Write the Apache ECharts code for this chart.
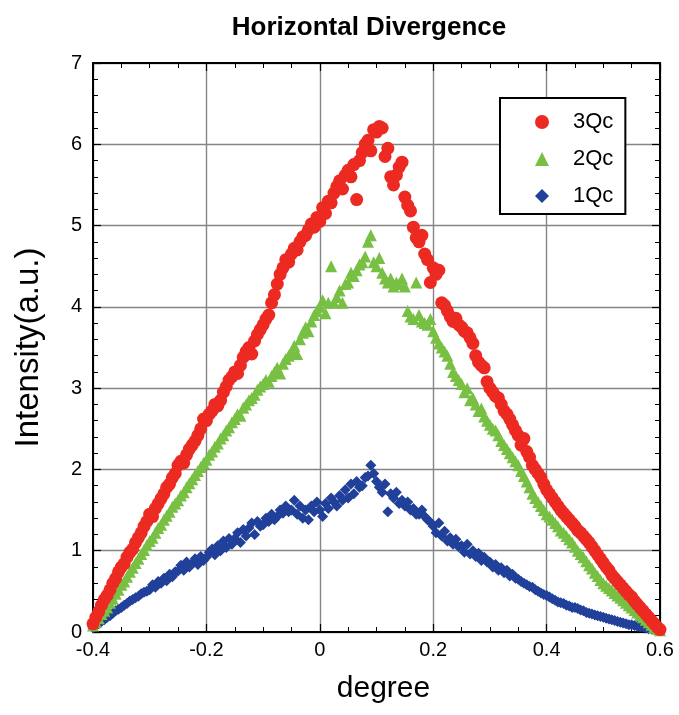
<!DOCTYPE html>
<html>
<head>
<meta charset="utf-8">
<script src="https://cdn.jsdelivr.net/npm/echarts@6/dist/echarts.min.js"></script>
<style>
  html, body { margin: 0; padding: 0; background: #fff; }
  #chart { width: 679px; height: 715px; }
</style>
</head>
<body>
<div id="chart"></div>
<script>
// x positions (degree), shared by all three series
const degree = [
  -0.400, -0.395, -0.390, -0.385, -0.380, -0.375, -0.370, -0.365, -0.360, -0.355,
  -0.350, -0.345, -0.340, -0.335, -0.330, -0.325, -0.320, -0.315, -0.310, -0.305,
  -0.300, -0.295, -0.290, -0.285, -0.280, -0.275, -0.270, -0.265, -0.260, -0.255,
  -0.250, -0.245, -0.240, -0.235, -0.230, -0.225, -0.220, -0.215, -0.210, -0.205,
  -0.200, -0.195, -0.190, -0.185, -0.180, -0.175, -0.170, -0.165, -0.160, -0.155,
  -0.150, -0.145, -0.140, -0.135, -0.130, -0.125, -0.120, -0.115, -0.110, -0.105,
  -0.100, -0.095, -0.090, -0.085, -0.080, -0.075, -0.070, -0.065, -0.060, -0.055,
  -0.050, -0.045, -0.040, -0.035, -0.030, -0.025, -0.020, -0.015, -0.010, -0.005,
  0.000, 0.005, 0.010, 0.015, 0.020, 0.025, 0.030, 0.035, 0.040, 0.045,
  0.050, 0.055, 0.060, 0.065, 0.070, 0.075, 0.080, 0.085, 0.090, 0.095,
  0.100, 0.105, 0.110, 0.115, 0.120, 0.125, 0.130, 0.135, 0.140, 0.145,
  0.150, 0.155, 0.160, 0.165, 0.170, 0.175, 0.180, 0.185, 0.190, 0.195,
  0.200, 0.205, 0.210, 0.215, 0.220, 0.225, 0.230, 0.235, 0.240, 0.245,
  0.250, 0.255, 0.260, 0.265, 0.270, 0.275, 0.280, 0.285, 0.290, 0.295,
  0.300, 0.305, 0.310, 0.315, 0.320, 0.325, 0.330, 0.335, 0.340, 0.345,
  0.350, 0.355, 0.360, 0.365, 0.370, 0.375, 0.380, 0.385, 0.390, 0.395,
  0.400, 0.405, 0.410, 0.415, 0.420, 0.425, 0.430, 0.435, 0.440, 0.445,
  0.450, 0.455, 0.460, 0.465, 0.470, 0.475, 0.480, 0.485, 0.490, 0.495,
  0.500, 0.505, 0.510, 0.515, 0.520, 0.525, 0.530, 0.535, 0.540, 0.545,
  0.550, 0.555, 0.560, 0.565, 0.570, 0.575, 0.580, 0.585, 0.590, 0.595,
  0.600
]

const qc3 = [
  0.10, 0.18, 0.25, 0.33, 0.40, 0.45, 0.52, 0.60, 0.66, 0.74,
  0.80, 0.84, 0.92, 0.98, 1.02, 1.10, 1.16, 1.22, 1.30, 1.36,
  1.45, 1.42, 1.52, 1.58, 1.64, 1.70, 1.78, 1.82, 1.90, 1.95,
  2.05, 2.10, 2.08, 2.18, 2.25, 2.30, 2.35, 2.42, 2.50, 2.62,
  2.60, 2.68, 2.72, 2.80, 2.78, 2.85, 2.95, 3.02, 3.10, 3.14,
  3.20, 3.18, 3.28, 3.38, 3.45, 3.50, 3.42, 3.58, 3.66, 3.72,
  3.78, 3.85, 3.90, 4.05, 4.15, 4.28, 4.40, 4.48, 4.58, 4.55,
  4.65, 4.72, 4.70, 4.80, 4.86, 4.88, 4.95, 5.02, 4.98, 5.10,
  5.05, 5.22, 5.15, 5.30, 5.28, 5.40, 5.48, 5.55, 5.45, 5.62,
  5.68, 5.60, 5.75, 5.32, 5.80, 5.90, 6.00, 6.05, 5.92, 6.18,
  6.15, 6.22, 6.20, 5.85, 5.95, 5.60, 5.50, 5.62, 5.72, 5.78,
  5.35, 5.25, 5.18, 4.98, 4.85, 4.80, 4.88, 4.65, 4.58, 4.30,
  4.48, 4.40, 4.45, 4.05, 4.02, 3.95, 3.88, 3.82, 3.86, 3.78,
  3.75, 3.70, 3.68, 3.62, 3.55, 3.40, 3.32, 3.28, 3.25, 3.08,
  3.00, 2.95, 2.90, 2.88, 2.80, 2.72, 2.68, 2.62, 2.55, 2.48,
  2.42, 2.30, 2.38, 2.22, 2.15, 2.05, 2.00, 1.95, 1.90, 1.82,
  1.75, 1.70, 1.65, 1.60, 1.55, 1.50, 1.46, 1.42, 1.38, 1.34,
  1.30, 1.25, 1.22, 1.18, 1.14, 1.10, 1.05, 1.00, 0.95, 0.90,
  0.85, 0.80, 0.76, 0.70, 0.66, 0.62, 0.58, 0.54, 0.50, 0.46,
  0.43, 0.38, 0.34, 0.30, 0.26, 0.22, 0.18, 0.14, 0.10, 0.06,
  0.03
]

const qc2 = [
  0.08, 0.12, 0.17, 0.22, 0.26, 0.30, 0.36, 0.41, 0.47, 0.52,
  0.58, 0.62, 0.68, 0.74, 0.79, 0.85, 0.90, 0.96, 1.01, 1.07,
  1.12, 1.16, 1.22, 1.28, 1.32, 1.38, 1.43, 1.48, 1.54, 1.58,
  1.62, 1.68, 1.72, 1.78, 1.83, 1.88, 1.93, 1.98, 2.03, 2.08,
  2.12, 2.18, 2.22, 2.28, 2.32, 2.38, 2.42, 2.48, 2.52, 2.58,
  2.62, 2.68, 2.66, 2.76, 2.80, 2.85, 2.88, 2.92, 2.98, 3.02,
  3.05, 3.10, 3.08, 3.15, 3.20, 3.25, 3.18, 3.30, 3.36, 3.40,
  3.45, 3.52, 3.42, 3.60, 3.68, 3.75, 3.70, 3.82, 3.90, 3.95,
  4.00, 4.08, 3.92, 4.05, 4.50, 4.05, 4.12, 4.20, 4.05, 4.28,
  4.30, 4.42, 4.38, 4.45, 4.52, 4.55, 4.62, 4.80, 4.88, 4.55,
  4.50, 4.60, 4.42, 4.35, 4.30, 4.35, 4.25, 4.30, 4.28, 4.35,
  4.25, 3.95, 3.88, 3.85, 4.30, 3.90, 3.82, 3.80, 3.78, 3.85,
  3.70, 3.62, 3.55, 3.50, 3.45, 3.40, 3.30, 3.20, 3.15, 3.10,
  3.05, 2.95, 3.00, 2.85, 2.88, 2.80, 2.72, 2.75, 2.65, 2.60,
  2.55, 2.50, 2.48, 2.42, 2.35, 2.30, 2.25, 2.20, 2.15, 2.10,
  2.05, 1.98, 1.92, 1.85, 1.78, 1.70, 1.65, 1.60, 1.55, 1.50,
  1.45, 1.42, 1.38, 1.34, 1.30, 1.25, 1.22, 1.18, 1.14, 1.10,
  1.05, 1.00, 0.96, 0.92, 0.87, 0.82, 0.78, 0.73, 0.69, 0.64,
  0.60, 0.57, 0.54, 0.51, 0.48, 0.45, 0.42, 0.39, 0.36, 0.33,
  0.30, 0.27, 0.24, 0.21, 0.18, 0.15, 0.12, 0.09, 0.06, 0.04,
  0.02
]

const qc1 = [
  0.05, 0.08, 0.10, 0.13, 0.15, 0.18, 0.20, 0.23, 0.26, 0.28,
  0.30, 0.33, 0.35, 0.38, 0.40, 0.42, 0.44, 0.47, 0.49, 0.50,
  0.52, 0.58, 0.55, 0.62, 0.60, 0.66, 0.63, 0.71, 0.68, 0.74,
  0.75, 0.82, 0.76, 0.86, 0.80, 0.84, 0.90, 0.83, 0.93, 0.88,
  0.92, 0.98, 1.02, 0.95, 1.06, 1.00, 1.12, 1.04, 1.15, 1.08,
  1.15, 1.22, 1.10, 1.26, 1.18, 1.28, 1.34, 1.20, 1.36, 1.30,
  1.32, 1.40, 1.36, 1.45, 1.38, 1.42, 1.50, 1.46, 1.55, 1.48,
  1.50, 1.62, 1.45, 1.55, 1.40, 1.50, 1.38, 1.55, 1.48, 1.60,
  1.50, 1.42, 1.58, 1.52, 1.65, 1.60, 1.55, 1.68, 1.62, 1.75,
  1.65, 1.82, 1.70, 1.85, 1.78, 1.80, 1.90, 1.92, 2.05, 1.95,
  1.85, 1.78, 1.72, 1.82, 1.48, 1.70, 1.65, 1.72, 1.58, 1.62,
  1.55, 1.60, 1.50, 1.52, 1.45, 1.45, 1.50, 1.42, 1.38, 1.35,
  1.30, 1.22, 1.34, 1.18, 1.24, 1.12, 1.16, 1.08, 1.14, 1.05,
  1.06, 0.98, 1.08, 0.96, 1.00, 0.93, 0.97, 0.88, 0.92, 0.86,
  0.86, 0.80, 0.83, 0.76, 0.79, 0.73, 0.76, 0.69, 0.71, 0.66,
  0.65, 0.62, 0.60, 0.58, 0.56, 0.55, 0.52, 0.50, 0.48, 0.46,
  0.45, 0.43, 0.41, 0.39, 0.37, 0.36, 0.35, 0.33, 0.32, 0.30,
  0.30, 0.29, 0.27, 0.26, 0.24, 0.23, 0.22, 0.21, 0.20, 0.19,
  0.18, 0.17, 0.16, 0.15, 0.14, 0.13, 0.12, 0.11, 0.10, 0.09,
  0.09, 0.08, 0.07, 0.06, 0.06, 0.05, 0.04, 0.04, 0.03, 0.03,
  0.02
]

const xTicks = [-0.4, -0.2, 0, 0.2, 0.4, 0.6]
const yTicks = [0, 1, 2, 3, 4, 5, 6, 7]

const font = 'Liberation Sans, Arial, Helvetica, sans-serif'

function pairs(ys) {
  return ys.map((v, i) => [degree[i], v])
}

const chart = echarts.init(document.getElementById('chart'))

// shared axis look: boxed frame, inward ticks, grey grid
function axisBase(extra) {
  return Object.assign({
    type: 'value',
    axisLine: { show: true, onZero: false, lineStyle: { color: '#000', width: 2 } },
    axisTick: { show: true, inside: true, length: 8, lineStyle: { color: '#000', width: 1.2 } },
    splitLine: { show: false },
    axisLabel: { show: false }
  }, extra)
}

const minorX = { show: true, splitNumber: 4, length: 5, lineStyle: { color: '#000', width: 1 } }
const minorY = { show: true, splitNumber: 5, length: 5, lineStyle: { color: '#000', width: 1 } }

chart.setOption({
  animation: false,
  backgroundColor: '#fff',
  title: {
    text: 'Horizontal Divergence',
    left: 364,
    top: 10,
    textAlign: 'center',
    textStyle: { fontFamily: font, fontSize: 26, fontWeight: 'bold', color: '#000' }
  },
  grid: { left: 93, top: 63, right: 19, bottom: 83 },
  legend: {
    data: ['3Qc', '2Qc', '1Qc'],
    orient: 'vertical',
    left: 500,
    top: 98,
    padding: [13, 12, 7, 35],
    itemGap: 15,
    itemWidth: 14,
    itemHeight: 14,
    backgroundColor: '#fff',
    borderColor: '#000',
    borderWidth: 2,
    textStyle: {
      fontFamily: font, fontSize: 22, lineHeight: 22, color: '#000',
      padding: [0, 0, 0, 19]
    }
  },
  xAxis: [
    axisBase({
      min: -0.4, max: 0.6, interval: 0.2,
      position: 'bottom',
      minorTick: minorX,
      splitLine: { show: true, lineStyle: { color: '#858585', width: 1.4 } },
      axisLabel: {
        show: true, margin: 8, color: '#000', fontFamily: font, fontSize: 20,
        formatter: v => {
          const t = xTicks.find(k => Math.abs(k - v) < 1e-9)
          return t === undefined ? '' : String(t)
        }
      },
      name: 'degree',
      nameLocation: 'middle',
      nameGap: 42,
      nameTextStyle: { fontFamily: font, fontSize: 30, color: '#000', padding: [0, 0, 0, 14] }
    }),
    axisBase({
      min: -0.4, max: 0.6, interval: 0.2,
      position: 'top',
      minorTick: minorX
    })
  ],
  yAxis: [
    axisBase({
      min: 0, max: 7, interval: 1,
      position: 'left',
      minorTick: minorY,
      splitLine: { show: true, lineStyle: { color: '#858585', width: 1.4 } },
      axisLabel: {
        show: true, margin: 11, color: '#000', fontFamily: font, fontSize: 20,
        formatter: v => (yTicks.indexOf(v) >= 0 ? String(v) : '')
      },
      name: 'Intensity(a.u.)',
      nameLocation: 'middle',
      nameGap: 48,
      nameTextStyle: { fontFamily: font, fontSize: 33, color: '#000' }
    }),
    axisBase({
      min: 0, max: 7, interval: 1,
      position: 'right',
      minorTick: minorY
    })
  ],
  series: [
    {
      name: '1Qc',
      type: 'scatter',
      symbol: 'diamond',
      symbolSize: 11,
      itemStyle: { color: '#20409a', opacity: 1 },
      data: pairs(qc1)
    },
    {
      name: '2Qc',
      type: 'scatter',
      symbol: 'triangle',
      symbolSize: 12,
      itemStyle: { color: '#78c043', opacity: 1 },
      data: pairs(qc2)
    },
    {
      name: '3Qc',
      type: 'scatter',
      symbol: 'circle',
      symbolSize: 13,
      itemStyle: { color: '#ec2a22', opacity: 1 },
      data: pairs(qc3)
    }
  ]
})
</script>
</body>
</html>
